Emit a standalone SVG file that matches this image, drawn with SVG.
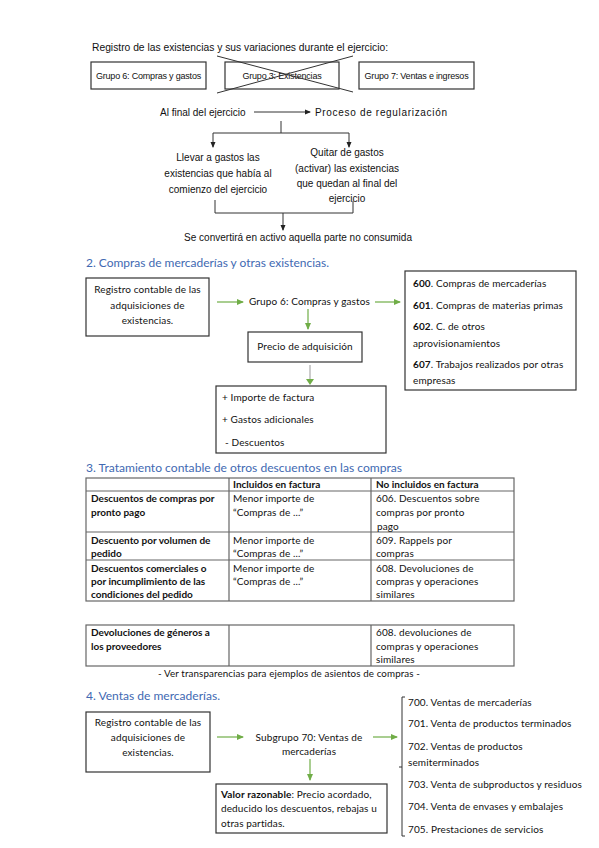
<svg xmlns="http://www.w3.org/2000/svg" width="599" height="848" viewBox="0 0 599 848">
<defs>
<style>
.t{font-family:"Liberation Sans",Arial,sans-serif;font-size:10px;fill:#111}
.ts{font-family:"Liberation Sans",Arial,sans-serif;font-size:9px;fill:#111;letter-spacing:-0.2px}
.c{font-family:Lato,"Open Sans",sans-serif;font-size:10px;fill:#111;letter-spacing:0.12px}
.cb{font-family:Lato,"Open Sans",sans-serif;font-size:10px;fill:#111;font-weight:bold}
.h{font-family:Lato,"Open Sans",sans-serif;font-size:12px;fill:#4169b2}
.box{fill:#fff;stroke:#333;stroke-width:1.2}
.tb{fill:none;stroke:#666;stroke-width:1.2}
.ln{fill:none;stroke:#333;stroke-width:1}
.g{fill:none;stroke:#70ad47;stroke-width:1.2}
.m{text-anchor:middle}
</style>
<marker id="ab" markerWidth="6" markerHeight="6" refX="5" refY="3" orient="auto" markerUnits="userSpaceOnUse"><path d="M0,0.5 L6,3 L0,5.5 Z" fill="#222"/></marker>
<marker id="ag" markerWidth="7" markerHeight="7" refX="6" refY="3.5" orient="auto" markerUnits="userSpaceOnUse"><path d="M0,0.5 L7,3.5 L0,6.5 Z" fill="#70ad47"/></marker>
</defs>
<rect width="599" height="848" fill="#fff"/>

<!-- Section 1 -->
<text class="t" x="92" y="51" textLength="296" lengthAdjust="spacingAndGlyphs">Registro de las existencias y sus variaciones durante el ejercicio:</text>
<g id="grupo6top"><rect class="box" x="91" y="62" width="115" height="27"/><text class="ts m" x="148.5" y="79">Grupo 6: Compras y gastos</text></g>
<g id="grupo3top"><rect class="box" x="225" y="62" width="114" height="27"/><text class="ts m" x="282" y="79">Grupo 3: Existencias</text><path class="ln" d="M217,56 L353,92 M353,56 L217,93" stroke-width="1.1"/></g>
<g id="grupo7top"><rect class="box" x="359" y="62" width="115" height="27"/><text class="ts m" x="416.5" y="79">Grupo 7: Ventas e ingresos</text></g>
<g id="alfinal"><text class="t" x="160" y="116">Al final del ejercicio</text></g>
<g id="proceso"><text class="t" x="315" y="116" textLength="132" lengthAdjust="spacing">Proceso de regularización</text></g>
<g id="llevar"><text class="t m" x="218" y="161">Llevar a gastos las</text><text class="t m" x="218" y="177">existencias que había al</text><text class="t m" x="218" y="193">comienzo del ejercicio</text></g>
<g id="quitar"><text class="t m" x="347" y="156">Quitar de gastos</text><text class="t m" x="347" y="172">(activar) las existencias</text><text class="t m" x="347" y="187">que quedan al final del</text><text class="t m" x="347" y="202">ejercicio</text></g>
<g id="convertira"><text class="t m" x="298" y="241" font-size="9.5" textLength="228" lengthAdjust="spacingAndGlyphs">Se convertirá en activo aquella parte no consumida</text></g>

<!-- Section 2 -->
<text class="h" x="86" y="267" textLength="243" lengthAdjust="spacingAndGlyphs">2. Compras de mercaderías y otras existencias.</text>
<g id="registro2"><rect class="box" x="86" y="278" width="123" height="58"/><text class="c m" x="147.5" y="293">Registro contable de las</text><text class="c m" x="147.5" y="309">adquisiciones de</text><text class="c m" x="147.5" y="324">existencias.</text></g>
<g id="grupo6"><text class="c" x="249" y="305" textLength="121" lengthAdjust="spacingAndGlyphs">Grupo 6: Compras y gastos</text></g>
<g id="cuentas60"><rect class="box" x="405" y="271" width="171" height="119"/>
<text class="c" x="413" y="287"><tspan font-weight="bold">600</tspan>. Compras de mercaderías</text>
<text class="c" x="413" y="309"><tspan font-weight="bold">601</tspan>. Compras de materias primas</text>
<text class="c" x="413" y="330"><tspan font-weight="bold">602</tspan>. C. de otros</text>
<text class="c" x="413" y="347">aprovisionamientos</text>
<text class="c" x="413" y="368"><tspan font-weight="bold">607</tspan>. Trabajos realizados por otras</text>
<text class="c" x="413" y="384">empresas</text></g>
<g id="precio"><rect class="box" x="248" y="332" width="114" height="30"/><text class="c m" x="305" y="350">Precio de adquisición</text></g>
<g id="importe"><rect class="box" x="216" y="386" width="170" height="67"/><text class="c" x="222" y="401">+ Importe de factura</text><text class="c" x="222" y="423">+ Gastos adicionales</text><text class="c" x="225" y="446">- Descuentos</text></g>

<!-- Section 3 -->
<text class="h" x="86" y="472" textLength="316" lengthAdjust="spacingAndGlyphs">3. Tratamiento contable de otros descuentos en las compras</text>
<g id="tabla">
<rect class="tb" x="86" y="478" width="428" height="123"/>
<path class="tb" d="M229,478 V601 M371,478 V601 M86,491 H514 M86,532 H514 M86,560 H514"/>
<text class="cb" x="233" y="488">Incluidos en factura</text>
<text class="cb" x="376" y="488">No incluidos en factura</text>
<text class="cb" x="91" y="502">Descuentos de compras por</text>
<text class="cb" x="91" y="516">pronto pago</text>
<text class="c" x="233" y="502">Menor importe de</text>
<text class="c" x="233" y="516">“Compras de ...”</text>
<text class="c" x="376" y="502">606. Descuentos sobre</text>
<text class="c" x="376" y="516">compras por pronto</text>
<text class="c" x="377" y="530">pago</text>
<text class="cb" x="91" y="544">Descuento por volumen de</text>
<text class="cb" x="91" y="557">pedido</text>
<text class="c" x="233" y="544">Menor importe de</text>
<text class="c" x="233" y="557">“Compras de ...”</text>
<text class="c" x="376" y="544">609. Rappels por</text>
<text class="c" x="376" y="557">compras</text>
<text class="cb" x="91" y="572">Descuentos comerciales o</text>
<text class="cb" x="91" y="585">por incumplimiento de las</text>
<text class="cb" x="91" y="598">condiciones del pedido</text>
<text class="c" x="233" y="572">Menor importe de</text>
<text class="c" x="233" y="585">“Compras de ...”</text>
<text class="c" x="376" y="572">608. Devoluciones de</text>
<text class="c" x="376" y="585">compras y operaciones</text>
<text class="c" x="376" y="598">similares</text>
</g>
<g id="tabla2">
<rect class="tb" x="86" y="625" width="428" height="41"/>
<path class="tb" d="M229,625 V666 M371,625 V666"/>
<text class="cb" x="91" y="636">Devoluciones de géneros a</text>
<text class="cb" x="91" y="650">los proveedores</text>
<text class="c" x="376" y="636">608. devoluciones de</text>
<text class="c" x="376" y="650">compras y operaciones</text>
<text class="c" x="376" y="663">similares</text>
</g>
<text class="c m" x="289" y="677" textLength="262" lengthAdjust="spacingAndGlyphs">- Ver transparencias para ejemplos de asientos de compras -</text>

<!-- Section 4 -->
<text class="h" x="86" y="700" textLength="134" lengthAdjust="spacingAndGlyphs">4. Ventas de mercaderías.</text>
<g id="registro4"><rect class="box" x="86" y="712" width="124" height="60"/><text class="c m" x="148" y="726">Registro contable de las</text><text class="c m" x="148" y="741">adquisiciones de</text><text class="c m" x="148" y="756">existencias.</text></g>
<g id="subgrupo70"><text class="c m" x="309" y="741">Subgrupo 70: Ventas de</text><text class="c m" x="309" y="755">mercaderías</text></g>
<g id="valor"><rect class="box" x="216" y="784" width="171" height="49"/><text class="c" x="221" y="798"><tspan font-weight="bold">Valor razonable</tspan>: Precio acordado,</text><text class="c" x="221" y="812">deducido los descuentos, rebajas u</text><text class="c" x="221" y="827">otras partidas.</text></g>
<g id="cuentas70">
<path class="ln" d="M405,697 H402 V836 H405 M402,767 H399" stroke="#555"/>
<text class="c" x="408" y="706">700. Ventas de mercaderías</text>
<text class="c" x="408" y="727">701. Venta de productos terminados</text>
<text class="c" x="408" y="750">702. Ventas de productos</text>
<text class="c" x="408" y="766">semiterminados</text>
<text class="c" x="408" y="788">703. Venta de subproductos y residuos</text>
<text class="c" x="408" y="810">704. Venta de envases y embalajes</text>
<text class="c" x="408" y="833">705. Prestaciones de servicios</text>
</g>

<!-- Connectors -->
<g id="connectors">
<path class="ln" d="M254,112 H310" marker-end="url(#ab)"/>
<path class="ln" d="M281,121 V133 M213,133 H349"/>
<path class="ln" d="M213,133 V147" marker-end="url(#ab)"/>
<path class="ln" d="M349,133 V147" marker-end="url(#ab)"/>
<path class="ln" d="M215,200 V213 H353 V201"/>
<path class="ln" d="M283,213 V230" marker-end="url(#ab)"/>
<path class="g" d="M217,302 H243" marker-end="url(#ag)"/>
<path class="g" d="M375,302 H400" marker-end="url(#ag)"/>
<path class="g" d="M308,309 V329" marker-end="url(#ag)"/>
<path d="M310,365 V379" stroke="#bbb" stroke-width="1.5"/>
<path d="M306,379 L314,379 L310,385 Z" fill="#70ad47"/>
<path class="g" d="M217,737 H243" marker-end="url(#ag)"/>
<path class="g" d="M373,737 H397" marker-end="url(#ag)"/>
<path class="g" d="M310,759 V780" marker-end="url(#ag)"/>
</g>
</svg>
